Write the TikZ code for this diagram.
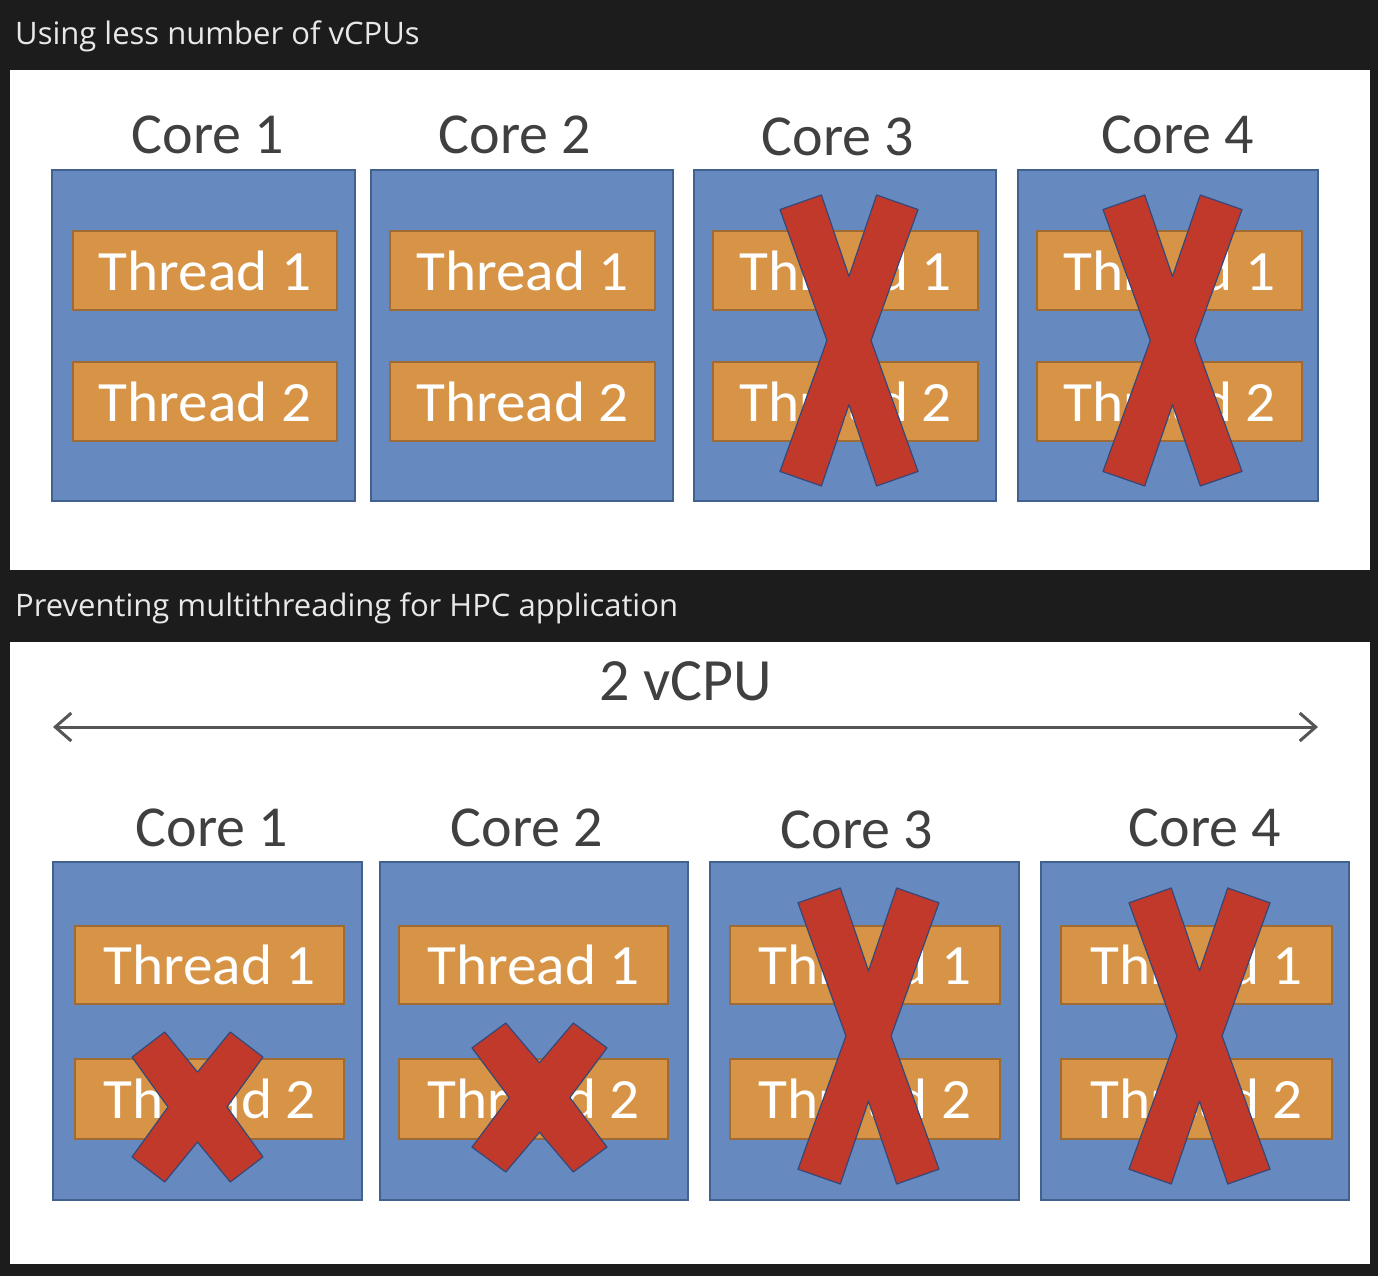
\documentclass[tikz,border=0pt]{standalone}
\usepackage{fontspec}
\setmainfont{Carlito}
\newfontfamily\uifont{Open Sans}
\newfontfamily\thfont[FakeStretch=1.04]{Carlito}
\usetikzlibrary{arrows.meta}
\definecolor{bg}{HTML}{1C1C1C}
\definecolor{corefill}{HTML}{6689C0}
\definecolor{coreline}{HTML}{41618F}
\definecolor{thfill}{HTML}{D79446}
\definecolor{thline}{HTML}{9E6B34}
\definecolor{xfill}{HTML}{C0392B}
\definecolor{xline}{HTML}{34497A}
\definecolor{lbl}{HTML}{404040}
\definecolor{hdr}{HTML}{E8E8E8}
\definecolor{arr}{HTML}{555555}
\tikzset{
  corebox/.style={draw=coreline, fill=corefill, line width=1.5pt, inner sep=0pt},
  thbox/.style={draw=thline, fill=thfill, line width=1.5pt, inner sep=0pt, text=white,
     font=\thfont\fontsize{57}{57}\selectfont},
  corelbl/.style={text=lbl, anchor=base, inner sep=0pt, font=\fontsize{58}{58}\selectfont},
  hdrtxt/.style={text=hdr, anchor=base west, inner sep=0pt, font=\uifont\fontsize{31}{31}\selectfont},
  xshape/.style={draw=xline, fill=xfill, line width=1.2pt, line join=round},
}
\newcommand{\bigcross}[4]{%
  \begin{scope}[shift={(#1,#2)}, xscale={#3-#1}, yscale={#4-#2}]
    \draw[xshape] (0,0.05) -- (0.3,0) -- (0.5,0.28) -- (0.7,0) -- (1,0.05) -- (0.66,0.5)
      -- (1,0.95) -- (0.7,1) -- (0.5,0.72) -- (0.3,1) -- (0,0.95) -- (0.34,0.5) -- cycle;
  \end{scope}}
\newcommand{\smallcross}[4]{%
  \begin{scope}[shift={(#1,#2)}, xscale={#3-#1}, yscale={#4-#2}]
    \draw[xshape] (0,0.167) -- (0.25,0) -- (0.5,0.267) -- (0.75,0) -- (1,0.167) -- (0.725,0.5)
      -- (1,0.833) -- (0.75,1) -- (0.5,0.733) -- (0.25,1) -- (0,0.833) -- (0.275,0.5) -- cycle;
  \end{scope}}
\begin{document}
\begin{tikzpicture}[x=1pt,y=-1pt]
\useasboundingbox (0,0) rectangle (1378,1276);
\fill[bg] (0,0) rectangle (1378,1276);
\fill[white] (10,70) rectangle (1370,570);
\fill[white] (10,642) rectangle (1370,1264);
\node[hdrtxt] (h1) at (15,45) {Using less number of vCPUs};
\node[hdrtxt] (h2) at (15,616) {Preventing multithreading for HPC application};
% ---- top panel ----
\node[corelbl] (la1) at (208,154) {Core 1};
\node[corelbl] (la2) at (515,154) {Core 2};
\node[corelbl] (la3) at (838,156) {Core 3};
\node[corelbl] (la4) at (1178,154) {Core 4};
\node[corebox, minimum width=303pt, minimum height=331pt] (a1) at (203.5,335.5) {};
\node[corebox, minimum width=302pt, minimum height=331pt] (a2) at (522,335.5) {};
\node[corebox, minimum width=302pt, minimum height=331pt] (a3) at (845,335.5) {};
\node[corebox, minimum width=300pt, minimum height=331pt] (a4) at (1168,335.5) {};
\node[thbox, minimum width=264pt, minimum height=79pt] (a1t1) at (205,270.5) {Thread 1};
\node[thbox, minimum width=264pt, minimum height=79pt] (a1t2) at (205,401.5) {Thread 2};
\node[thbox, minimum width=265pt, minimum height=79pt] (a2t1) at (522.5,270.5) {Thread 1};
\node[thbox, minimum width=265pt, minimum height=79pt] (a2t2) at (522.5,401.5) {Thread 2};
\node[thbox, minimum width=265pt, minimum height=79pt] (a3t1) at (845.5,270.5) {Thread 1};
\node[thbox, minimum width=265pt, minimum height=79pt] (a3t2) at (845.5,401.5) {Thread 2};
\node[thbox, minimum width=265pt, minimum height=79pt] (a4t1) at (1169.5,270.5) {Thread 1};
\node[thbox, minimum width=265pt, minimum height=79pt] (a4t2) at (1169.5,401.5) {Thread 2};
\bigcross{780}{195}{918}{486}
\bigcross{1103}{195}{1242}{486}
% ---- bottom panel ----
\node[text=lbl, inner sep=0pt, anchor=base, font=\fontsize{60}{60}\selectfont] (vc) at (686,700) {2 vCPU};
\coordinate (aL) at (53,727);
\coordinate (aR) at (1318,727);
\draw[arr, line width=3pt, {Straight Barb[length=16pt,width=28pt,line width=3pt]}-{Straight Barb[length=16pt,width=28pt,line width=3pt]}] (aL) -- (aR);
\node[corelbl] (lb1) at (212,846) {Core 1};
\node[corelbl] (lb2) at (527,846) {Core 2};
\node[corelbl] (lb3) at (857,848) {Core 3};
\node[corelbl] (lb4) at (1205,846) {Core 4};
\node[corebox, minimum width=309pt, minimum height=338pt] (b1) at (207.5,1031) {};
\node[corebox, minimum width=308pt, minimum height=338pt] (b2) at (534,1031) {};
\node[corebox, minimum width=309pt, minimum height=338pt] (b3) at (864.5,1031) {};
\node[corebox, minimum width=308pt, minimum height=338pt] (b4) at (1195,1031) {};
\node[thbox, minimum width=269pt, minimum height=78pt] (b1t1) at (209.5,965) {Thread 1};
\node[thbox, minimum width=269pt, minimum height=80pt] (b1t2) at (209.5,1099) {Thread 2};
\node[thbox, minimum width=269pt, minimum height=78pt] (b2t1) at (533.5,965) {Thread 1};
\node[thbox, minimum width=269pt, minimum height=80pt] (b2t2) at (533.5,1099) {Thread 2};
\node[thbox, minimum width=270pt, minimum height=78pt] (b3t1) at (865,965) {Thread 1};
\node[thbox, minimum width=270pt, minimum height=80pt] (b3t2) at (865,1099) {Thread 2};
\node[thbox, minimum width=271pt, minimum height=78pt] (b4t1) at (1196.5,965) {Thread 1};
\node[thbox, minimum width=271pt, minimum height=80pt] (b4t2) at (1196.5,1099) {Thread 2};
\smallcross{132}{1032}{263}{1182}
\smallcross{472}{1023}{607}{1172}
\bigcross{798}{888}{939}{1184}
\bigcross{1129}{888}{1270}{1184}
\end{tikzpicture}
\end{document}
